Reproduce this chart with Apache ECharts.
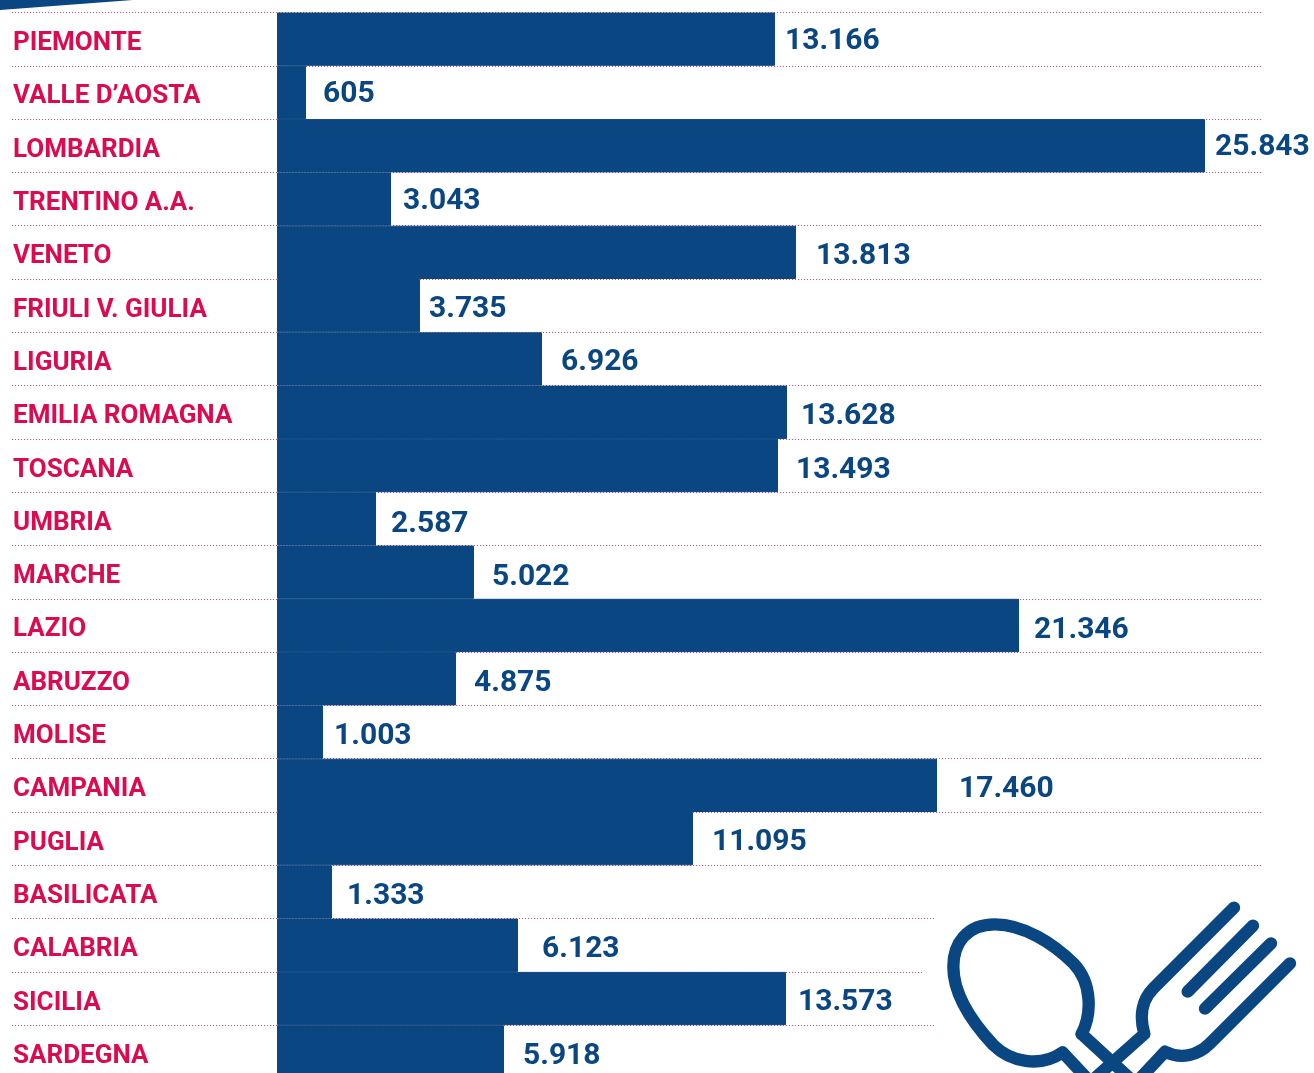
<!DOCTYPE html>
<html>
<head>
<meta charset="utf-8">
<style>
  html, body { margin: 0; padding: 0; background: #fff; overflow: hidden; height: 1073px; }
  /* taller than the window: the last row runs off the bottom like in the original */
  #main { width: 1314px; height: 1090px; }
</style>
<script src="https://cdn.jsdelivr.net/npm/echarts@6/dist/echarts.min.js"></script>
</head>
<body>
<div id="main"></div>
<script>
const regions = ["PIEMONTE", "VALLE D’AOSTA", "LOMBARDIA", "TRENTINO A.A.", "VENETO", "FRIULI V. GIULIA", "LIGURIA", "EMILIA ROMAGNA", "TOSCANA", "UMBRIA", "MARCHE", "LAZIO", "ABRUZZO", "MOLISE", "CAMPANIA", "PUGLIA", "BASILICATA", "CALABRIA", "SICILIA", "SARDEGNA"];
// the numbers printed next to the bars
const printedValues = ["13.166", "605", "25.843", "3.043", "13.813", "3.735", "6.926", "13.628", "13.493", "2.587", "5.022", "21.346", "4.875", "1.003", "17.460", "11.095", "1.333", "6.123", "13.573", "5.918"];
// the bars in the picture are not quite to scale with the printed numbers,
// so these are the lengths as drawn in the same units
const drawnValues = [13280, 773, 24747, 3040, 13840, 3813, 7067, 13600, 13360, 2640, 5253, 19787, 4773, 1227, 17600, 11093, 1467, 6427, 13573, 6053];

const BLUE = "#0a4682";
const PINK = "#de0a50";
const FONT = "Roboto";

// the numbers are hand placed in the original, so gap and drop change row by row
const labelGaps = [10, 17, 10, 12, 20, 9, 19, 14, 18, 15, 18, 15, 18, 11, 22, 19, 15, 24, 12, 19];
const labelDrops = [2, 2, 2, 2, 4, 4, 4, 4, 5, 6, 5, 5, 5, 4, 4, 4, 5, 4, 4, 5];

const myChart = echarts.init(document.getElementById("main"));

// spoon and fork, drawn at 3x and scaled down
const iconPaths = [
  "M545 462 C575 405 578 310 520 250 C460 190 370 133 285 133 C200 133 160 190 160 260 C160 340 215 425 280 495 C330 545 420 565 488 517 L640 680",
  "M545 462 L760 660",
  "M1002 83 L760 325 C725 360 718 410 733 462 L500 670",
  "M1059 137 L863 335",
  "M1113 190 L915 386",
  "M1170 250 L930 490 C895 525 845 540 795 515 L650 670"
];

const option = {
  animation: false,
  backgroundColor: "#fff",
  grid: { left: 12, top: 12.5, width: 1250, height: 1066 },
  xAxis: {
    type: "value",
    show: false,
    // negative part leaves room for the region names on the dotted rows
    min: -7067,
    max: 26267
  },
  yAxis: {
    type: "category",
    inverse: true,
    data: regions,
    axisLine: { show: false },
    axisTick: { show: false },
    splitLine: {
      show: true,
      interval: 0,
      lineStyle: { color: "#e8437c", width: 1, type: [1, 2] }
    },
    axisLabel: {
      inside: true,
      interval: 0,
      margin: 1,
      align: "left",
      // top + small lineHeight pushes the names a bit below the row centre
      verticalAlign: "top",
      lineHeight: 9,
      color: PINK,
      fontFamily: FONT,
      fontWeight: 700,
      fontSize: 26
    }
  },
  graphic: [
    { type: "polygon", z: 1, shape: { points: [[0, 0], [133, 0], [0, 10]] }, style: { fill: BLUE } },
    // the rows stop short of the icon
    { type: "rect", z: 1, shape: { x: 936, y: 916, width: 340, height: 6 }, style: { fill: "#fff" } },
    { type: "rect", z: 1, shape: { x: 923, y: 969, width: 350, height: 6 }, style: { fill: "#fff" } },
    { type: "rect", z: 1, shape: { x: 934, y: 1023, width: 340, height: 6 }, style: { fill: "#fff" } }
  ],
  series: [
    {
      type: "bar",
      barCategoryGap: 0,
      barWidth: "100%",
      // thin border closes the seams between neighbouring bars
      itemStyle: { color: BLUE, borderColor: BLUE, borderWidth: 1 },
      data: drawnValues.map(function (v, i) {
        return {
          value: v,
          label: {
            show: true,
            position: "right",
            distance: labelGaps[i],
            offset: [0, labelDrops[i]],
            formatter: printedValues[i],
            color: BLUE,
            fontFamily: FONT,
            fontWeight: 700,
            fontSize: 30
          }
        };
      })
    },
    {
      type: "custom",
      coordinateSystem: "none",
      z: 5,
      silent: true,
      data: [0],
      renderItem: function () {
        return {
          type: "group",
          x: 900,
          y: 880,
          scaleX: 1 / 3,
          scaleY: 1 / 3,
          children: iconPaths.map(function (d) {
            return {
              type: "path",
              shape: { pathData: d },
              style: { fill: "none", stroke: BLUE, lineWidth: 37, lineCap: "round", lineJoin: "round" }
            };
          })
        };
      }
    }
  ]
};

myChart.setOption(option);
</script>
</body>
</html>
